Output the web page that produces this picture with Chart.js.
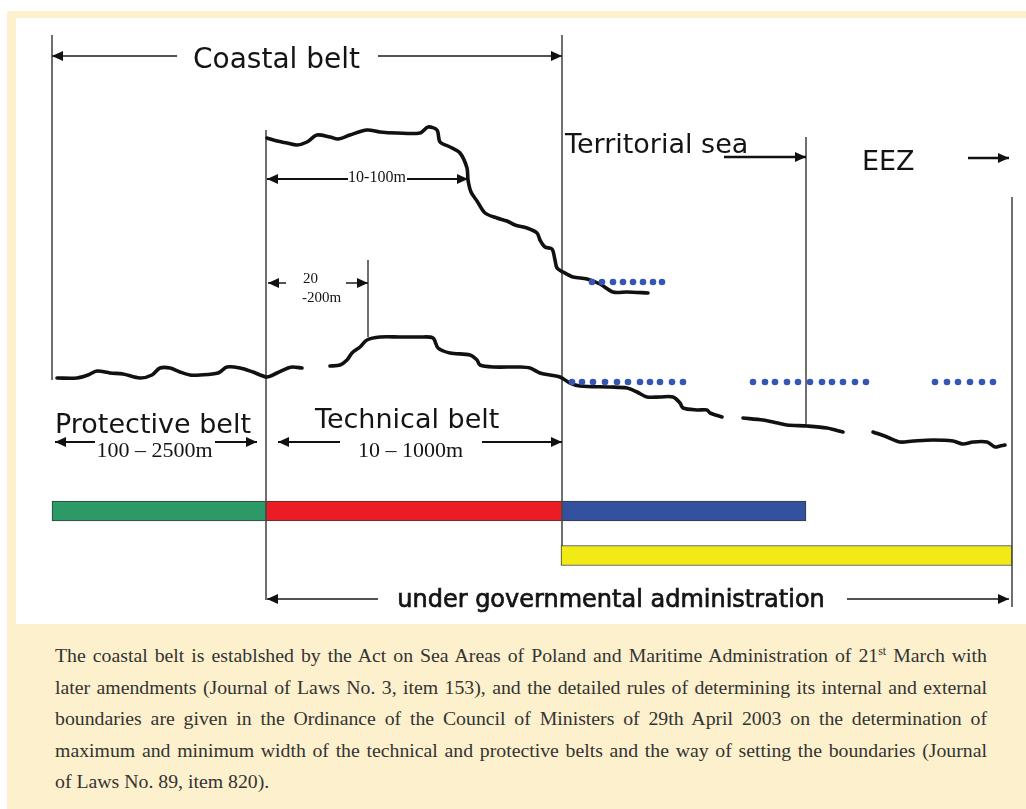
<!DOCTYPE html>
<html>
<head>
<meta charset="utf-8">
<title>Coastal belt</title>
<script src="https://cdn.jsdelivr.net/npm/chart.js@4.4.0/dist/chart.umd.min.js"></script>
<style>
html, body { margin: 0; padding: 0; background: #fff; }
body { width: 1026px; height: 809px; position: relative; overflow: hidden; }
.frame { position: absolute; left: 7px; top: 11px; right: 0; bottom: 0; background: #fdf0cc; }
.panel { position: absolute; left: 16px; top: 18px; width: 1010px; height: 606px; background: #fff; }
.caption { position: absolute; left: 55px; top: 640px; width: 932px; font-family: "Liberation Serif", serif; font-size: 19.8px; line-height: 31.5px; color: #333; }
.caption div { white-space: nowrap; }
.caption sup { font-size: 12px; line-height: 0; vertical-align: 7px; }
</style>
</head>
<body>
<div class="frame"></div>
<div class="panel"><canvas id="beltChart" width="1010" height="606"></canvas></div>
<div class="caption">
  <div class="j"><span>The coastal belt is establshed by the Act on Sea Areas of Poland and Maritime Administration of 21<sup>st</sup> March with</span></div>
  <div class="j"><span>later amendments (Journal of Laws No. 3, item 153), and the detailed rules of determining its internal and external</span></div>
  <div class="j"><span>boundaries are given in the Ordinance of the Council of Ministers of 29th April 2003 on the determination of</span></div>
  <div class="j"><span>maximum and minimum width of the technical and protective belts and the way of setting the boundaries (Journal</span></div>
  <div><span>of Laws No. 89, item 820).</span></div>
</div>
<script>
// Coastal belt diagram — x: distance from the shoreline, y: elevation (diagram units)

// ---- Terrain profiles ----
const cliffProfile = [
    [-295, 242], [-285, 239], [-275, 237], [-265, 235], [-255, 238], [-245, 245], [-232, 243],
    [-224, 241], [-212, 245], [-195, 250], [-182, 248], [-165, 247], [-142, 247], [-134, 253],
    [-125, 250], [-122, 238], [-112, 233], [-102, 227], [-95, 212], [-94, 200], [-91, 188],
    [-85, 179], [-77, 167], [-65, 162], [-55, 159], [-47, 155], [-35, 152], [-25, 147],
    [-22, 140], [-17, 133], [-10, 131], [-7, 120], [-5, 112], [1, 108], [11, 103], [25, 101],
    [38, 96], [51, 88], [65, 88], [86, 87]
];

const duneProfile = [
    [[-505, 2], [-485, 2], [-474, 5], [-465, 9], [-452, 7], [-439, 6], [-422, 2], [-410, 5],
     [-402, 12], [-392, 12], [-382, 8], [-372, 5], [-362, 5], [-344, 7], [-335, 13], [-322, 12],
     [-309, 8], [-295, 3], [-285, 7], [-274, 12], [-269, 13], [-260, 12]],
    [[-232, 14], [-222, 15], [-215, 20], [-210, 27], [-202, 33], [-195, 40], [-182, 43],
     [-162, 43], [-142, 43], [-129, 42], [-124, 32], [-112, 27], [-92, 25], [-85, 20], [-82, 15],
     [-69, 13], [-42, 13], [-32, 12], [-22, 7], [-12, 5], [-2, 3], [8, -3], [18, -6], [48, -7],
     [65, -8], [75, -12], [85, -17], [98, -17], [111, -17], [118, -23], [121, -28], [135, -30],
     [145, -30], [148, -33], [160, -37]],
    [[181, -38], [201, -40], [211, -42], [225, -45], [245, -46], [265, -48], [281, -52]],
    [[311, -52], [325, -57], [338, -62], [351, -61], [371, -60], [391, -61], [401, -64],
     [411, -62], [425, -62], [433, -67], [438, -66], [443, -65]]
];

// ---- Sea level markers (blue dots) ----
const upperSeaLevel = 98;
const upperSeaDots = [30, 40, 51, 61, 71, 81, 91, 100];
const lowerSeaLevel = -2;
const lowerSeaDots = [10, 20, 31, 43, 55, 66, 78, 88, 98, 110, 121,
                      191, 203, 213, 225, 236, 248, 260, 270, 281, 293, 304,
                      373, 385, 396, 408, 420, 431];

// ---- Boundaries (vertical lines) ----
const boundaryX      = [-510, -296, -194, 0, 244, 450];
const boundaryTop    = [345, 250, 120, 345, 243, 183];
const boundaryBottom = [0, -220, 43, -166, -45, -227];

// ---- Zones (bars) ----
const zoneNames  = ['Protective belt', 'Technical belt', 'Territorial sea', 'Governmental administration'];
const zoneStart  = [-510, -296, 0, -1];
const zoneEnd    = [-296, 0, 244, 450];
const zoneRow    = [-131, -131, -131, -175.5];
const zoneColors = ['#2b9a66', '#ec1c24', '#3451a0', '#f2ea15'];

// ---- Dimension arrows ----
const thinArrows = [
    [[-510, 324], [-385, 324]], [[-184, 324], [0, 324]],
    [[-295, -219], [-184, -219]], [[285, -219], [447, -219]],
    [[-294, 97], [-276, 97]], [[-216, 97], [-194, 97]]
];
const mediumArrows = [
    [[-295, 201], [-214, 201]], [[-155, 201], [-94, 201]],
    [[-507, -62], [-467, -62]], [[-347, -62], [-305, -62]],
    [[-284, -62], [-222, -62]], [[-80, -62], [0, -62]]
];
const thickArrows = [
    [[162, 223], [244, 223]],
    [[406, 222], [447, 222]]
];
const headsLeft  = [[-510, 324], [-295, -219], [-294, 97], [-295, 201], [-507, -62], [-284, -62]];
const headsRight = [[0, 324], [447, -219], [-194, 97], [-94, 201], [-305, -62], [0, -62], [244, 223], [447, 222]];

// ---- Text ----
const SANS = '"DejaVu Sans", Verdana, sans-serif';
const SERIF = '"Liberation Serif", "Times New Roman", serif';
const labels = [
    { text: 'Coastal belt', x: -369, y: 312, font: '28px ' + SANS },
    { text: 'Territorial sea', x: 3, y: 227, font: '27px ' + SANS },
    { text: 'EEZ', x: 300, y: 210, font: '27px ' + SANS },
    { text: 'Protective belt', x: -507, y: -53, font: '27px ' + SANS },
    { text: 'Technical belt', x: -247, y: -48, font: '27px ' + SANS },
    { text: 'under governmental administration', x: 49, y: -227, font: '24px ' + SANS, align: 'center', heavy: true },
    { text: '100 \u2013 2500m', x: -407.5, y: -77, font: '22px ' + SERIF, align: 'center' },
    { text: '10 \u2013 1000m', x: -151.5, y: -77, font: '22px ' + SERIF, align: 'center' },
    { text: '10-100m', x: -185, y: 198, font: '16px ' + SERIF, align: 'center' },
    { text: '20', x: -259, y: 97, font: '15px ' + SERIF },
    { text: '-200m', x: -260, y: 78, font: '15px ' + SERIF }
];

// ---- Helpers ----
const toXY = pts => pts.map(p => ({ x: p[0], y: p[1] }));

// join segments into one series, with a null point between them for the gaps
function joinSegments(segs) {
    const out = [];
    segs.forEach((seg, i) => {
        if (i > 0) out.push({ x: seg[0][0], y: null });
        seg.forEach(p => out.push({ x: p[0], y: p[1] }));
    });
    return out;
}

function makeArrowHead(len, half) {
    const c = document.createElement('canvas');
    c.width = len * 2;
    c.height = half * 2;
    const g = c.getContext('2d');
    g.fillStyle = '#111';
    g.beginPath();
    g.moveTo(0, 0);
    g.lineTo(len, half);
    g.lineTo(0, half * 2);
    g.closePath();
    g.fill();
    return c; // tip sits at the image centre
}

const boundarySegments = boundaryX.map((x, i) => [[x, boundaryTop[i]], [x, boundaryBottom[i]]]);
const zoneBars = zoneStart.map((s, i) => ({ x: [s, zoneEnd[i]], y: zoneRow[i] }));
const dotsUpper = upperSeaDots.map(x => ({ x, y: upperSeaLevel }));
const dotsLower = lowerSeaDots.map(x => ({ x, y: lowerSeaLevel }));
const arrowHead = makeArrowHead(11, 5);

function lineSet(data, width, color, order, extra) {
    return Object.assign({
        type: 'line', data, borderColor: color, borderWidth: width,
        pointRadius: 0, fill: false, spanGaps: false, tension: 0, order
    }, extra || {});
}

const labelPlugin = {
    id: 'diagramLabels',
    afterDatasetsDraw(chart) {
        const { ctx, scales: { x, y } } = chart;
        labels.forEach(l => {
            ctx.save();
            ctx.font = l.font;
            ctx.fillStyle = '#141414';
            ctx.textAlign = l.align || 'left';
            ctx.textBaseline = 'alphabetic';
            const px = x.getPixelForValue(l.x);
            const py = y.getPixelForValue(l.y);
            ctx.fillText(l.text, px, py);
            if (l.heavy) {
                ctx.strokeStyle = '#141414';
                ctx.lineWidth = 0.7;
                ctx.strokeText(l.text, px, py);
            }
            ctx.restore();
        });
    }
};

new Chart(document.getElementById('beltChart'), {
    type: 'line',
    data: {
        datasets: [
            {
                type: 'bar', label: 'zones', indexAxis: 'y', data: zoneBars,
                backgroundColor: zoneColors, borderColor: '#3a3a3a', borderWidth: 1,
                borderSkipped: false, barThickness: 20, order: 6
            },
            lineSet(joinSegments(boundarySegments), 1.6, '#4d4d4d', 5),
            lineSet(toXY(cliffProfile), 3.6, '#111', 4, { tension: 0.3, borderJoinStyle: 'round', borderCapStyle: 'round' }),
            lineSet(joinSegments(duneProfile), 3.6, '#111', 4, { tension: 0.3, borderJoinStyle: 'round', borderCapStyle: 'round' }),
            {
                type: 'line', data: dotsUpper.concat(dotsLower), showLine: false,
                pointRadius: 3.3, pointBackgroundColor: '#3656b4', pointBorderWidth: 0, order: 3
            },
            lineSet(joinSegments(thinArrows), 1.5, '#1a1a1a', 2),
            lineSet(joinSegments(mediumArrows), 2, '#111', 2),
            lineSet(joinSegments(thickArrows), 2.6, '#111', 2),
            {
                type: 'line', data: toXY(headsRight), showLine: false,
                pointStyle: arrowHead, pointRadius: 5, rotation: 0, order: 1
            },
            {
                type: 'line', data: toXY(headsLeft), showLine: false,
                pointStyle: arrowHead, pointRadius: 5, rotation: 180, order: 1
            }
        ]
    },
    options: {
        responsive: false,
        animation: false,
        events: [],
        layout: { padding: 0, autoPadding: false },
        plugins: { legend: { display: false }, tooltip: { enabled: false } },
        scales: {
            x: { type: 'linear', min: -546, max: 464, display: false, offset: false },
            y: { type: 'linear', min: -244, max: 362, display: false, offset: false }
        }
    },
    plugins: [labelPlugin]
});

// ---- Caption: justify each line to the column width ----
document.querySelectorAll('.caption .j').forEach(line => {
    const span = line.querySelector('span');
    const spaces = (span.textContent.match(/ /g) || []).length;
    const natural = span.getBoundingClientRect().width;
    line.style.wordSpacing = ((932 - natural) / spaces) + 'px';
});
</script>
</body>
</html>
